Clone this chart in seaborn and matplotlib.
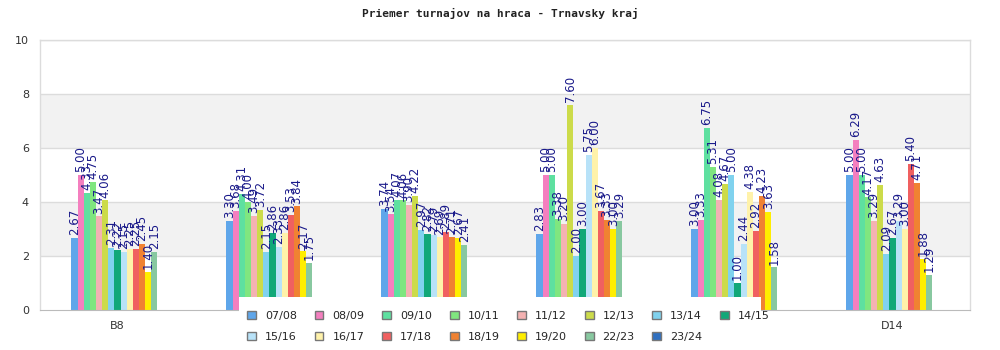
import numpy as np
import pandas as pd
import seaborn as sns
import matplotlib
matplotlib.use("Agg")
import matplotlib.pyplot as plt
from matplotlib.patches import Patch, Rectangle

# ---- data ----
categories = ["B8", "B10", "B12", "B14", "D12", "D14"]
shown_ticks = ["B8", "", "", "", "", "D14"]
seasons = ["07/08", "08/09", "09/10", "10/11", "11/12", "12/13", "13/14", "14/15",
           "15/16", "16/17", "17/18", "18/19", "19/20", "22/23", "23/24"]

v_0708 = [2.67, 3.30, 3.74, 2.83, 3.00, 5.00]
v_0809 = [5.00, 3.68, 3.54, 5.00, 3.33, 6.29]
v_0910 = [4.33, 4.31, 4.07, 5.00, 6.75, 5.00]
v_1011 = [4.75, 4.00, 4.06, 3.38, 5.31, 4.17]
v_1112 = [3.47, 3.49, 3.90, 3.20, 4.08, 3.29]
v_1213 = [4.06, 3.72, 4.22, 7.60, 4.67, 4.63]
v_1314 = [2.31, 2.15, 2.97, 2.00, 5.00, 2.09]
v_1415 = [2.22, 2.86, 2.82, 3.00, 1.00, 2.67]
v_1516 = [2.15, 2.33, 2.79, 5.75, 2.44, 3.29]
v_1617 = [2.25, 2.86, 2.69, 6.00, 4.38, 3.00]
v_1718 = [2.25, 3.53, 2.89, 3.67, 2.92, 5.40]
v_1819 = [2.45, 3.84, 2.71, 3.33, 4.23, 4.71]
v_1920 = [1.40, 2.17, 2.67, 3.00, 3.63, 1.88]
v_2223 = [2.15, 1.75, 2.41, 3.29, 1.58, 1.29]
v_2324 = [np.nan] * 6

series = [v_0708, v_0809, v_0910, v_1011, v_1112, v_1213, v_1314, v_1415,
          v_1516, v_1617, v_1718, v_1819, v_1920, v_2223, v_2324]

colors = ["#5fa6ea", "#f47fbf", "#5ee0a0", "#80e67f", "#f4b2b2", "#ccdb4a",
          "#80d2ee", "#10a878", "#b8e2f8", "#fff2aa", "#f06060", "#f08232",
          "#ffee00", "#88c8a0", "#3070c0"]

rows = []
for s, vals in zip(seasons, series):
    for c, v in zip(categories, vals):
        rows.append({"cat": c, "season": s, "val": v})
df = pd.DataFrame(rows)

# ---- figure ----
sns.set_style("white")
plt.rcParams["font.family"] = ["DejaVu Sans"]
fig = plt.figure(figsize=(10, 3.5), dpi=100)
ax = fig.add_axes([0.04, 0.1143, 0.93, 0.7714])

# alternating bands
for lo, hi in [(2, 4), (6, 8)]:
    ax.axhspan(lo, hi, color="#f2f2f2", zorder=0, lw=0)
for y in [2, 4, 6, 8, 10]:
    ax.axhline(y, color="#dcdcdc", lw=1, zorder=0.5)

sns.barplot(data=df, x="cat", y="val", hue="season", order=categories,
            hue_order=seasons, palette=colors, width=0.595, dodge=True,
            saturation=1, ax=ax, legend=False, linewidth=0, errorbar=None)

for cont in ax.containers:
    labels = []
    for b in cont:
        h = b.get_height()
        labels.append("" if (h is None or np.isnan(h)) else f"{h:.2f}")
    ax.bar_label(cont, labels=labels, rotation=90, padding=2, fontsize=8.5,
                 color="#1a1a8a")

ax.set_ylim(0, 10)
ax.set_xlim(-0.5, len(categories) - 0.5)
ax.set_yticks([0, 2, 4, 6, 8, 10])
ax.set_yticklabels(["0", "2", "4", "6", "8", "10"], fontsize=8, color="#333333")
ax.set_xticks(range(len(categories)))
ax.set_xticklabels(shown_ticks, fontsize=8, color="#333333")
ax.tick_params(axis="both", length=0, pad=8)
ax.set_xlabel("")
ax.set_ylabel("")
for side in ["left", "top", "right"]:
    ax.spines[side].set_color("#dcdcdc")
    ax.spines[side].set_linewidth(1)
ax.spines["bottom"].set_color("#bbbbbb")

fig.text(0.5, 0.962, "Priemer turnajov na hraca - Trnavsky kraj", ha="center",
         va="center", fontsize=8, fontweight="bold", family="DejaVu Sans Mono",
         color="#222222")

# legend box overlaying bottom of plot
fig.patches.append(Rectangle((0.239, 0.0), 0.522, 0.152, transform=fig.transFigure,
                             facecolor="white", edgecolor="none", zorder=5))
handles = [Patch(facecolor=c, edgecolor="#777777", linewidth=1, label=s)
           for s, c in zip(seasons, colors)]
order = []
for j in range(7):
    order += [j, j + 8]
order.append(7)
leg = fig.legend([handles[i] for i in order], [seasons[i] for i in order],
                 ncol=8, loc="lower left", bbox_to_anchor=(0.237, -0.006),
                 frameon=False, fontsize=8, handlelength=0.8, handleheight=0.8,
                 columnspacing=1.6, handletextpad=0.8, labelspacing=1.02)
leg.set_zorder(6)

fig.savefig("out.png", dpi=100, facecolor="white")
